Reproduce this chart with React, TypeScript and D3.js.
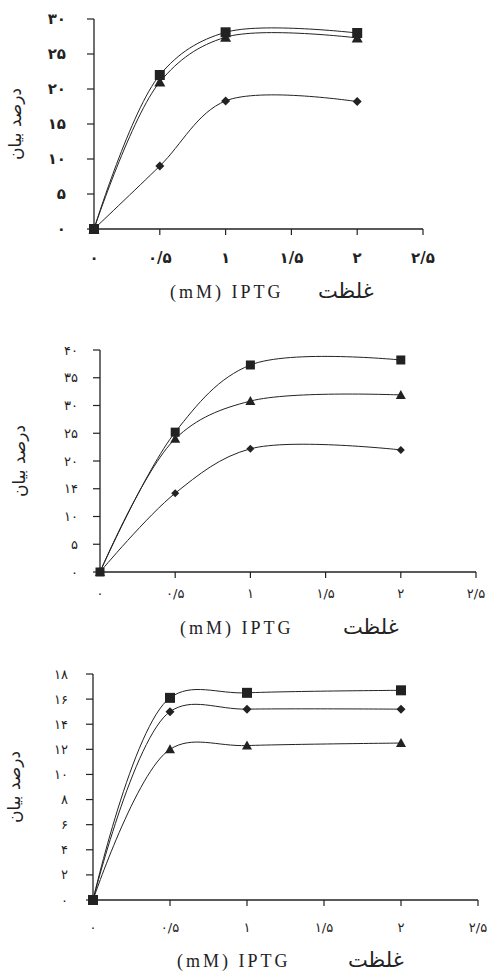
import * as d3 from "d3";

// غلظت IPTG (mM)
const xValues = [0, 0.5, 1, 2];
const xTicks = [0, 0.5, 1, 1.5, 2, 2.5];
const xTickLabels = ["۰", "۰/۵", "۱", "۱/۵", "۲", "۲/۵"];

// نمودار اول
const p1Square = [0, 22, 28.1, 28];
const p1Triangle = [0, 21, 27.4, 27.3];
const p1Diamond = [0, 9, 18.3, 18.2];
const p1YTicks = [0, 5, 10, 15, 20, 25, 30];
const p1YLabels = ["۰", "۵", "۱۰", "۱۵", "۲۰", "۲۵", "۳۰"];

// نمودار دوم
const p2Square = [0, 25.2, 37.3, 38.2];
const p2Triangle = [0, 24, 30.8, 31.9];
const p2Diamond = [0, 14.2, 22.2, 22];
const p2YTicks = [0, 5, 10, 15, 20, 25, 30, 35, 40];
const p2YLabels = ["۰", "۵", "۱۰", "۱۴", "۲۰", "۲۵", "۳۰", "۳۵", "۴۰"];

// نمودار سوم
const p3Square = [0, 16.1, 16.5, 16.7];
const p3Diamond = [0, 15, 15.2, 15.2];
const p3Triangle = [0, 12, 12.3, 12.5];
const p3YTicks = [0, 2, 4, 6, 8, 10, 12, 14, 16, 18];
const p3YLabels = ["۰", "۲", "۴", "۶", "۸", "۱۰", "۱۲", "۱۴", "۱۶", "۱۸"];

const yTitle = "درصد بیان";
const xTitleLatin = "(mM) IPTG";
const xTitleFa = "غلظت";

const ink = "#222";

const Marker = ({ shape, x, y, size }) => {
  const s = size / 2;
  if (shape === "square")
    return <rect x={x - s} y={y - s} width={size} height={size} fill={ink} />;
  if (shape === "triangle")
    return (
      <path
        d={`M${x},${y - s - 1}L${x + s + 1},${y + s}L${x - s - 1},${y + s}Z`}
        fill={ink}
      />
    );
  return <path d={`M${x},${y - s}L${x + s},${y}L${x},${y + s}L${x - s},${y}Z`} fill={ink} />;
};

const Panel = (props) => {
  const { left, right, top, bottom, yMax, yTicks, yLabels, series, bold, labelGap, xLabelY, titleY, yTitleX, latinX, faX, fs, ls } = props;

  const scaleX = d3.scaleLinear().domain([0, 2.5]).range([left, right]);
  const scaleY = d3.scaleLinear().domain([0, yMax]).range([bottom, top]);

  const line = d3
    .line()
    .x((d) => scaleX(d[0]))
    .y((d) => scaleY(d[1]))
    .curve(d3.curveCatmullRom.alpha(0.5));

  const digitFont = "'DejaVu Sans', sans-serif";

  return (
    <g>
      {/* محور عمودی */}
      <line x1={left} x2={left} y1={top} y2={bottom} stroke={ink} strokeWidth={1.3} />
      {yTicks.map((t, i) => (
        <g key={"y" + i}>
          <line x1={left - 7} x2={left} y1={scaleY(t)} y2={scaleY(t)} stroke={ink} strokeWidth={1.2} />
          <text
            x={left - labelGap}
            y={scaleY(t)}
            dy="0.35em"
            textAnchor="end"
            fontFamily={digitFont}
            fontSize={fs}
            letterSpacing={ls}
            fontWeight={bold ? "bold" : "normal"}
            fill={ink}
          >
            {yLabels[i]}
          </text>
        </g>
      ))}
      {/* محور افقی */}
      <line x1={left} x2={right} y1={bottom} y2={bottom} stroke={ink} strokeWidth={1.3} />
      {xTicks.map((t, i) => (
        <g key={"x" + i}>
          {i > 0 && (
            <line x1={scaleX(t)} x2={scaleX(t)} y1={bottom} y2={bottom + 6} stroke={ink} strokeWidth={1.2} />
          )}
          <text
            x={scaleX(t)}
            y={xLabelY}
            textAnchor="middle"
            fontFamily={digitFont}
            fontSize={fs}
            letterSpacing={ls}
            fontWeight={bold ? "bold" : "normal"}
            fill={ink}
          >
            {xTickLabels[i]}
          </text>
        </g>
      ))}
      {/* عنوان محورها */}
      <text
        transform={`translate(${yTitleX}, ${(top + bottom) / 2}) rotate(-90)`}
        textAnchor="middle"
        fontFamily="'DejaVu Sans', sans-serif"
        fontSize={17}
        fill={ink}
      >
        {yTitle}
      </text>
      <text x={latinX} y={titleY} fontFamily="'Liberation Serif', serif" fontSize={18} letterSpacing={3} fill={ink}>
        {xTitleLatin}
      </text>
      <text x={faX} y={titleY} fontFamily="'DejaVu Sans', sans-serif" fontSize={21} fill={ink}>
        {xTitleFa}
      </text>
      {/* سری‌ها */}
      {series.map((s, k) => (
        <path
          key={"l" + k}
          d={line(xValues.map((x, i) => [x, s.values[i]]))}
          fill="none"
          stroke={ink}
          strokeWidth={1}
        />
      ))}
      {series.map((s, k) =>
        xValues.map((x, i) => (
          <Marker key={"m" + k + "-" + i} shape={s.shape} x={scaleX(x)} y={scaleY(s.values[i])} size={s.size} />
        ))
      )}
    </g>
  );
};

const App = () => {
  return (
    <svg width={488} height={974} style={{ position: "absolute", left: 0, top: 0, background: "#fff" }}>
      <rect width={488} height={974} fill="#fff" />
      <Panel
        left={94}
        right={423}
        top={19}
        bottom={229}
        yMax={30}
        yTicks={p1YTicks}
        yLabels={p1YLabels}
        bold={true}
        fs={15}
        ls={0.5}
        labelGap={28}
        xLabelY={263}
        titleY={298}
        yTitleX={21}
        latinX={170}
        faX={318}
        series={[
          { values: p1Diamond, shape: "diamond", size: 9 },
          { values: p1Triangle, shape: "triangle", size: 9 },
          { values: p1Square, shape: "square", size: 10 },
        ]}
      />
      <Panel
        left={100}
        right={476}
        top={350}
        bottom={572}
        yMax={40}
        yTicks={p2YTicks}
        yLabels={p2YLabels}
        bold={false}
        fs={13}
        ls={2}
        labelGap={22}
        xLabelY={598}
        titleY={634}
        yTitleX={25}
        latinX={180}
        faX={343}
        series={[
          { values: p2Diamond, shape: "diamond", size: 8 },
          { values: p2Triangle, shape: "triangle", size: 8 },
          { values: p2Square, shape: "square", size: 9 },
        ]}
      />
      <Panel
        left={93}
        right={478}
        top={674}
        bottom={900}
        yMax={18}
        yTicks={p3YTicks}
        yLabels={p3YLabels}
        bold={false}
        fs={13}
        ls={2}
        labelGap={25}
        xLabelY={932}
        titleY={967}
        yTitleX={20}
        latinX={177}
        faX={348}
        series={[
          { values: p3Triangle, shape: "triangle", size: 8 },
          { values: p3Diamond, shape: "diamond", size: 9 },
          { values: p3Square, shape: "square", size: 10 },
        ]}
      />
    </svg>
  );
};

export default App;
